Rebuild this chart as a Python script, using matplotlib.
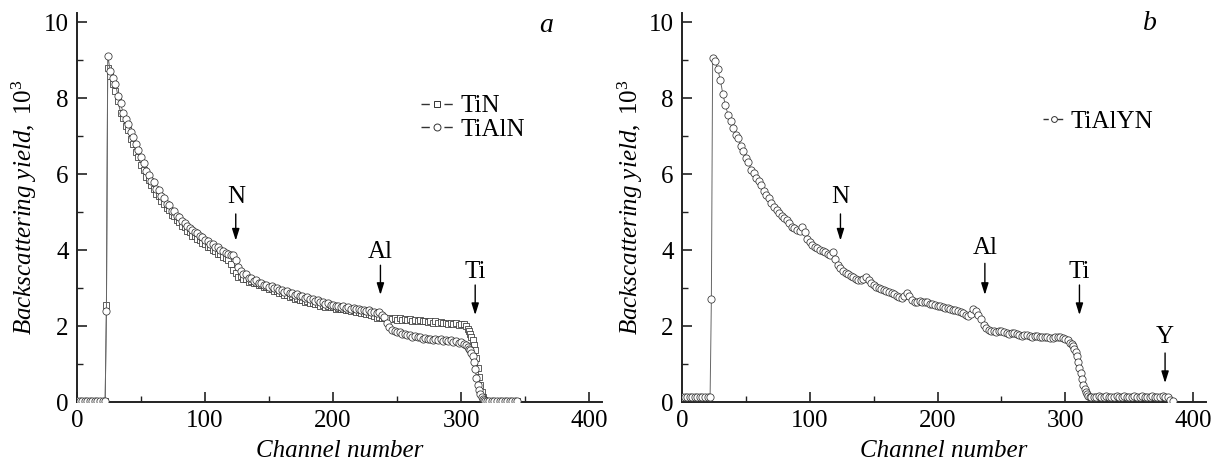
import numpy as np
import matplotlib
matplotlib.use("Agg")
import matplotlib.pyplot as plt
from matplotlib.lines import Line2D
from matplotlib.legend_handler import HandlerTuple

plt.rcParams['font.family'] = ['Liberation Serif', 'DejaVu Serif']
plt.rcParams['mathtext.fontset'] = 'custom'
plt.rcParams['mathtext.rm'] = 'Liberation Serif'
plt.rcParams['mathtext.it'] = 'Liberation Serif:italic'

# ---------------- data (yield in units of 10^3) ----------------
# channel positions
ch_lead = list(range(0, 23, 2)) + [23]
ch_body = list(range(24, 305, 2))
ch_edge = list(range(305, 321))
ch_tail_a = list(range(322, 345, 2))
ch_tail_b = list(range(322, 385, 2))

ch_a = ch_lead + ch_body + ch_edge + ch_tail_a
ch_b = ch_lead + ch_body + ch_edge + ch_tail_b

tin_lead = [0.02] * 12 + [2.55]
tialn_lead = [0.02] * 12 + [2.40]
tialyn_lead = [0.12] * 12 + [2.70]

tin_body = [
    8.80, 8.58, 8.38, 8.18, 7.92, 7.62, 7.48, 7.26, 7.15, 6.92,
    6.80, 6.58, 6.44, 6.25, 6.12, 5.93, 5.84, 5.70, 5.62, 5.48,
    5.42, 5.28, 5.22, 5.10, 5.05, 4.93, 4.90, 4.78, 4.75, 4.63,
    4.60, 4.50, 4.47, 4.38, 4.36, 4.28, 4.26, 4.18, 4.17, 4.08,
    4.07, 4.00, 3.98, 3.90, 3.89, 3.82, 3.80, 3.74, 3.64, 3.48,
    3.40, 3.30, 3.32, 3.23, 3.25, 3.17, 3.18, 3.12, 3.13, 3.07,
    3.08, 3.02, 3.03, 2.98, 2.98, 2.92, 2.93, 2.87, 2.88, 2.82,
    2.83, 2.77, 2.78, 2.72, 2.73, 2.68, 2.69, 2.64, 2.65, 2.60,
    2.61, 2.57, 2.58, 2.54, 2.55, 2.51, 2.52, 2.49, 2.50, 2.46,
    2.47, 2.44, 2.45, 2.42, 2.43, 2.40, 2.41, 2.37, 2.38, 2.34,
    2.35, 2.31, 2.32, 2.28, 2.26, 2.22, 2.24, 2.20, 2.22, 2.19,
    2.21, 2.18, 2.22, 2.17, 2.20, 2.16, 2.19, 2.15, 2.18, 2.14,
    2.17, 2.13, 2.15, 2.12, 2.14, 2.10, 2.13, 2.09, 2.12, 2.08,
    2.10, 2.07, 2.09, 2.06, 2.08, 2.05, 2.07, 2.04, 2.06, 2.05,
    2.00,
]
tin_edge = [1.92, 1.86, 1.80, 1.72, 1.62, 1.50, 1.36, 1.15, 0.90, 0.66,
            0.44, 0.26, 0.13, 0.06, 0.03, 0.02]
tin_tail = [0.02] * 12

tialn_body = [
    9.12, 8.72, 8.52, 8.38, 8.06, 7.86, 7.62, 7.44, 7.32, 7.12,
    6.98, 6.78, 6.64, 6.44, 6.28, 6.08, 5.98, 5.82, 5.78, 5.62,
    5.58, 5.42, 5.38, 5.22, 5.18, 5.04, 5.02, 4.90, 4.88, 4.76,
    4.72, 4.64, 4.58, 4.54, 4.47, 4.44, 4.36, 4.34, 4.26, 4.25,
    4.17, 4.16, 4.08, 4.07, 4.00, 3.98, 3.92, 3.90, 3.86, 3.88,
    3.74, 3.56, 3.46, 3.36, 3.36, 3.27, 3.26, 3.19, 3.20, 3.13,
    3.14, 3.08, 3.09, 3.03, 3.06, 3.00, 2.99, 2.95, 2.96, 2.90,
    2.91, 2.86, 2.88, 2.82, 2.84, 2.79, 2.80, 2.75, 2.76, 2.70,
    2.72, 2.66, 2.68, 2.62, 2.64, 2.59, 2.60, 2.55, 2.56, 2.53,
    2.54, 2.51, 2.52, 2.48, 2.49, 2.46, 2.47, 2.44, 2.45, 2.42,
    2.43, 2.39, 2.41, 2.37, 2.38, 2.34, 2.36, 2.30, 2.24, 2.08,
    1.98, 1.90, 1.88, 1.83, 1.84, 1.79, 1.80, 1.76, 1.77, 1.72,
    1.74, 1.70, 1.71, 1.67, 1.69, 1.65, 1.67, 1.63, 1.66, 1.62,
    1.65, 1.61, 1.64, 1.60, 1.62, 1.58, 1.60, 1.56, 1.58, 1.54,
    1.50,
]
tialn_edge = [1.44, 1.40, 1.36, 1.30, 1.22, 1.06, 0.86, 0.64, 0.46, 0.31,
              0.20, 0.12, 0.07, 0.04, 0.03, 0.02]
tialn_tail = [0.02] * 12

tialyn_body = [
    9.06, 8.98, 8.76, 8.48, 8.10, 7.82, 7.56, 7.40, 7.22, 7.04,
    6.96, 6.74, 6.62, 6.42, 6.32, 6.12, 6.02, 5.90, 5.82, 5.72,
    5.56, 5.46, 5.38, 5.24, 5.14, 5.06, 4.98, 4.90, 4.84, 4.78,
    4.70, 4.62, 4.58, 4.52, 4.50, 4.60, 4.48, 4.30, 4.20, 4.14,
    4.08, 4.05, 4.00, 3.97, 3.94, 3.90, 3.88, 3.94, 3.76, 3.60,
    3.52, 3.46, 3.40, 3.36, 3.32, 3.28, 3.25, 3.22, 3.20, 3.23,
    3.30, 3.20, 3.12, 3.08, 3.04, 3.00, 2.97, 2.95, 2.92, 2.90,
    2.88, 2.84, 2.80, 2.76, 2.74, 2.78, 2.86, 2.80, 2.68, 2.62,
    2.63, 2.65, 2.63, 2.62, 2.62, 2.58, 2.57, 2.55, 2.54, 2.52,
    2.50, 2.48, 2.47, 2.44, 2.43, 2.41, 2.40, 2.37, 2.34, 2.28,
    2.26, 2.32, 2.46, 2.40, 2.30, 2.18, 2.04, 1.95, 1.90, 1.88,
    1.86, 1.85, 1.87, 1.88, 1.84, 1.82, 1.80, 1.81, 1.82, 1.78,
    1.76, 1.75, 1.77, 1.76, 1.74, 1.72, 1.74, 1.73, 1.72, 1.70,
    1.71, 1.70, 1.69, 1.68, 1.70, 1.72, 1.70, 1.68, 1.66, 1.62,
    1.56,
]
tialyn_edge = [1.52, 1.47, 1.40, 1.32, 1.22, 1.05, 0.90, 0.76, 0.60, 0.46,
               0.35, 0.26, 0.20, 0.16, 0.14, 0.13]
tialyn_tail = [0.13, 0.14, 0.15, 0.14, 0.13, 0.15, 0.14, 0.13, 0.14, 0.15,
               0.13, 0.14, 0.15, 0.14, 0.13, 0.14, 0.15, 0.13, 0.14, 0.15,
               0.14, 0.13, 0.14, 0.15, 0.14, 0.13, 0.14, 0.15, 0.14, 0.13,
               0.05, 0.02]

tin = tin_lead + tin_body + tin_edge + tin_tail
tialn = tialn_lead + tialn_body + tialn_edge + tialn_tail
tialyn = tialyn_lead + tialyn_body + tialyn_edge + tialyn_tail

labels_a = ["TiN", "TiAlN"]
labels_b = ["TiAlYN"]
# element edge markers: (label, channel, text y, arrow top y, arrow tip y)
edges_a = [("N", 124, 5.40, 4.95, 4.25), ("Al", 237, 3.95, 3.60, 2.82),
           ("Ti", 311, 3.42, 3.08, 2.29)]
edges_b = [("N", 124, 5.40, 4.95, 4.25), ("Al", 237, 4.05, 3.65, 2.82),
           ("Ti", 311, 3.42, 3.08, 2.29), ("Y", 378, 1.70, 1.29, 0.50)]

# ---------------- figure ----------------
fig = plt.figure(figsize=(12.2, 4.66), dpi=100)
ax_a = fig.add_axes([0.0631, 0.1373, 0.4303, 0.8348])
ax_b = fig.add_axes([0.559, 0.1373, 0.4295, 0.8348])

FS = 18
lc = '#666666'
ec = '#333333'
MS = 5.2


def style(ax):
    ax.set_xlim(0, 410)
    ax.set_ylim(0, 10.24)
    for s in ['top', 'right']:
        ax.spines[s].set_visible(False)
    for s in ['left', 'bottom']:
        ax.spines[s].set_linewidth(1.4)
        ax.spines[s].set_color('#222222')
    ax.set_xticks([0, 100, 200, 300, 400])
    ax.set_xticks([50, 150, 250, 350], minor=True)
    ax.set_yticks([0, 2, 4, 6, 8, 10])
    ax.set_yticks([1, 3, 5, 7, 9], minor=True)
    ax.tick_params(which='major', direction='in', length=7, width=1.2,
                   labelsize=FS, pad=6, color='#222222')
    ax.tick_params(which='minor', direction='in', length=4.5, width=1.0,
                   color='#222222')
    ax.set_xlabel('Channel number', fontsize=FS, style='italic')
    ax.set_ylabel(r'$\mathit{Backscattering\ yield,}\ \mathrm{10^3}$', fontsize=FS)


def edge_labels(ax, edges):
    for name, c, ty, y0, y1 in edges:
        ax.text(c, ty, name, ha='center', va='center', fontsize=FS)
        ax.annotate('', xy=(c, y1), xytext=(c, y0),
                    arrowprops=dict(arrowstyle='-|>,head_length=0.7,head_width=0.22',
                                    color='black', lw=1.0, shrinkA=0, shrinkB=0))


def leg_handle(marker, ms, on, off):
    line = Line2D([], [], color='#333333', lw=1.0, dashes=(on, off))
    mk = Line2D([], [], ls='none', marker=marker, ms=ms, mfc='white', mec=ec, mew=0.7)
    return (line, mk)


HMAP = {tuple: HandlerTuple(ndivide=1, pad=0)}

# panel a
ax_a.plot(ch_a, tin, '-', color=lc, lw=0.7, marker='s', ms=MS - 0.4,
          mfc='white', mec=ec, mew=0.55, zorder=2)
ax_a.plot(ch_a, tialn, '-', color=lc, lw=0.7, marker='o', ms=MS,
          mfc='white', mec=ec, mew=0.55, zorder=3)
style(ax_a)
edge_labels(ax_a, edges_a)
ax_a.text(366, 9.92, 'a', fontsize=FS + 2, style='italic', ha='center', va='center')
h_a = [leg_handle('s', 5, 6, 10.5), leg_handle('o', 5, 6, 10.5)]
ax_a.legend(h_a, labels_a, loc='center left', bbox_to_anchor=(0.655, 0.73),
            frameon=False, fontsize=FS, handlelength=1.3, handletextpad=0.3,
            borderpad=0, borderaxespad=0, labelspacing=0.05, handler_map=HMAP)
ax_a.yaxis.set_label_coords(-0.072, 0.5)
ax_a.xaxis.set_label_coords(0.5, -0.098)

# panel b
ax_b.plot(ch_b, tialyn, '-', color=lc, lw=0.7, marker='o', ms=MS,
          mfc='white', mec=ec, mew=0.55, zorder=3)
style(ax_b)
edge_labels(ax_b, edges_b)
ax_b.text(366, 9.97, 'b', fontsize=FS + 2, style='italic', ha='center', va='center')
h_b = [leg_handle('o', 4.2, 3.8, 6.6)]
ax_b.legend(h_b, labels_b, loc='center left', bbox_to_anchor=(0.689, 0.72),
            frameon=False, fontsize=FS, handlelength=0.85, handletextpad=0.25,
            borderpad=0, borderaxespad=0, handler_map=HMAP)
ax_b.yaxis.set_label_coords(-0.071, 0.5)
ax_b.xaxis.set_label_coords(0.5, -0.098)

fig.savefig('out.png', dpi=100)
